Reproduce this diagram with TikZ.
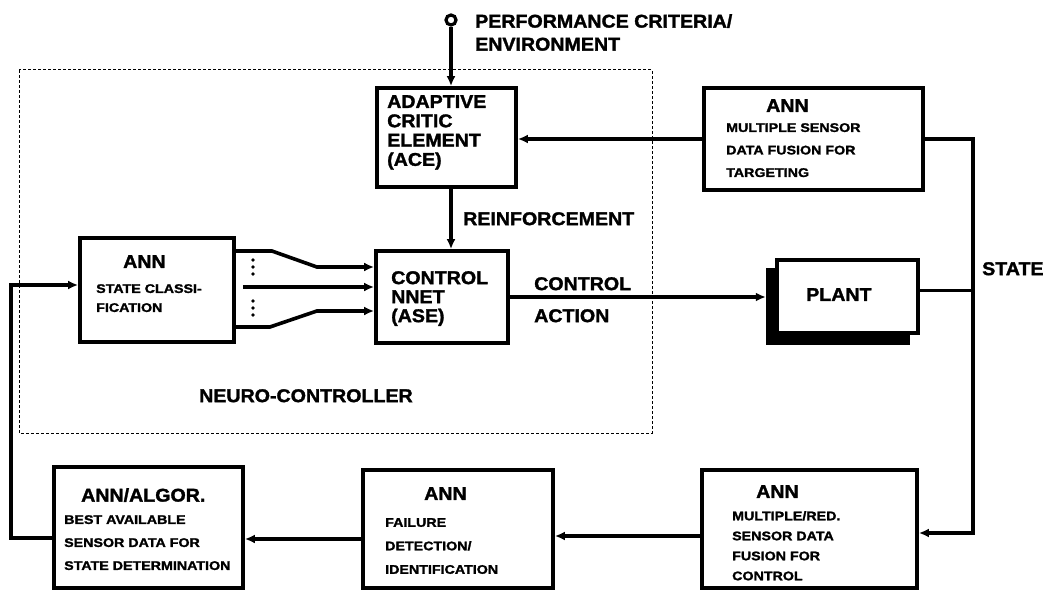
\documentclass[tikz,border=0pt]{standalone}
\usepackage{fontspec}
\setmainfont{Liberation Sans}
\newfontfamily\bigfont[FakeStretch=1.06,FakeBold=1.6]{Liberation Sans}
\newfontfamily\smallfont[FakeStretch=1.14,FakeBold=1.6]{Liberation Sans}
\usetikzlibrary{arrows.meta}

\begin{document}
\begin{tikzpicture}[x=1pt,y=-1pt,
    block/.style={draw,line width=3.8pt,inner sep=0pt,fill=white},
    sigline/.style={line width=3.6pt},
    sigarrow/.style={line width=3.6pt,-{Latex[length=10pt,width=9pt]}},
    bigtxt/.style={font=\bigfont\bfseries\fontsize{18.5}{#1}\selectfont,
      inner sep=0pt,anchor=north west,align=left},
    bigtxt/.default=19.3,
    smalltxt/.style={font=\smallfont\bfseries\fontsize{12.5}{#1}\selectfont,
      inner sep=0pt,anchor=north west,align=left},
    smalltxt/.default=22.5]
    \useasboundingbox (0,0) rectangle (1053,591);
    % neuro-controller frame
    \draw[line width=1pt,dash pattern=on 3pt off 2pt] (19,70) rectangle (652,433);
    \node[bigtxt] (nclabel) at (199,389) {NEURO-CONTROLLER};
    % blocks
    \node[block,minimum width=139,minimum height=99] (ace) at (446.5,137.5) {};
    \node[block,minimum width=219,minimum height=102] (target) at (813.5,139) {};
    \node[block,minimum width=132,minimum height=92] (ctrl) at (442,297) {};
    \node[block,minimum width=154,minimum height=104] (cls) at (157,290) {};
    \node[fill=black,inner sep=0pt,minimum width=144,minimum height=77] (pshadow) at (838,306.5) {};
    \node[block,minimum width=141,minimum height=73] (plant) at (847.5,296.5) {};
    \node[block,minimum width=215,minimum height=118] (mred) at (809.5,529) {};
    \node[block,minimum width=190,minimum height=118] (fail) at (458,529) {};
    \node[block,minimum width=189,minimum height=121] (best) at (148.5,527.5) {};
    % block texts
    \node[bigtxt] (acetxt) at (387,95) {ADAPTIVE\\CRITIC\\ELEMENT\\(ACE)};
    \node[bigtxt=19] (ctrltxt) at (391,271) {CONTROL\\NNET\\(ASE)};
    \node[bigtxt] (planttxt) at (806,288) {PLANT};
    \node[bigtxt] (clsann) at (123,255) {ANN};
    \node[smalltxt=19] (clstxt) at (96,284) {STATE CLASSI-\\FICATION};
    \node[bigtxt] (targetann) at (766,99) {ANN};
    \node[smalltxt] (targettxt) at (726,123) {MULTIPLE SENSOR\\DATA FUSION FOR\\TARGETING};
    \node[bigtxt] (bestann) at (81,488) {ANN/ALGOR.};
    \node[smalltxt=23] (besttxt) at (64,515) {BEST AVAILABLE\\SENSOR DATA FOR\\STATE DETERMINATION};
    \node[bigtxt] (failann) at (424,487) {ANN};
    \node[smalltxt=23.5] (failtxt) at (385,518) {FAILURE\\DETECTION/\\IDENTIFICATION};
    \node[bigtxt] (mredann) at (756,485) {ANN};
    \node[smalltxt=20] (mredtxt) at (732,511) {MULTIPLE/RED.\\SENSOR DATA\\FUSION FOR\\CONTROL};
    % free labels
    \node[draw,circle,line width=3.2pt,minimum size=10pt,inner sep=0pt] (perf) at (451,20) {};
    \node[bigtxt=23] (perftxt) at (475,14) {PERFORMANCE CRITERIA/\\ENVIRONMENT};
    \node[bigtxt] (reinf) at (463,212) {REINFORCEMENT};
    \node[bigtxt=32] (action) at (534,277) {CONTROL\\ACTION};
    \node[bigtxt] (statelbl) at (982,262) {STATE};
    % connectors
    \draw[sigarrow] (perf.south) -- (perf.south |- ace.north);
    \draw[sigarrow] (target.west) -- (target.west -| ace.east);
    \draw[sigarrow] (perf.south |- ace.south) -- (perf.south |- ctrl.north);
    \draw[sigarrow] ([yshift=39pt]cls.east) -- ++(36,0) -- ++(45,16) coordinate (t1)
      -- (t1 -| ctrl.west);
    \draw[sigarrow] ([xshift=7pt,yshift=3pt]cls.east) coordinate (t2) -- (t2 -| ctrl.west);
    \draw[sigarrow] ([yshift=-37pt]cls.east) -- ++(34,0) -- ++(47,-16) coordinate (t3)
      -- (t3 -| ctrl.west);
    \foreach \y in {260,267,274,301,308,315}
      \fill (253,\y) circle (1.8);
    \draw[sigarrow] (ctrl.east) -- (ctrl.east -| pshadow.west);
    \coordinate (bus) at (973,533);
    \draw[sigarrow] (target.east) -| (bus) -- (bus -| mred.east);
    \draw[sigline] ([yshift=6pt]plant.east) coordinate (pe) -- (pe -| bus);
    \coordinate (m1) at ([yshift=-7pt]mred.west);
    \draw[sigarrow] (m1) -- (m1 -| fail.east);
    \coordinate (f1) at ([yshift=-10pt]fail.west);
    \draw[sigarrow] (f1) -- (f1 -| best.east);
    \coordinate (fbk) at (11,285);
    \draw[sigarrow] ([yshift=-10.5pt]best.west) -| (fbk) -- (fbk -| cls.west);
\end{tikzpicture}
\end{document}
